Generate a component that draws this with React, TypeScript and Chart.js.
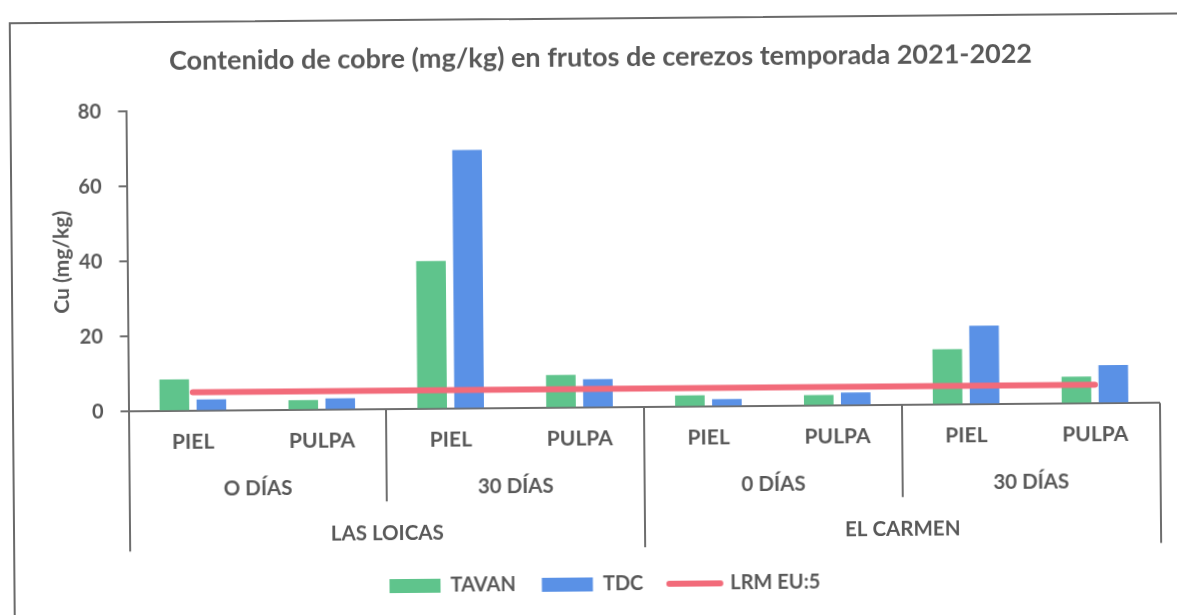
import { useEffect, useRef } from "react";
import { Chart, registerables } from "chart.js";

Chart.register(...registerables);

// ---- data ----
const tissues = ["PIEL", "PULPA", "PIEL", "PULPA", "PIEL", "PULPA", "PIEL", "PULPA"];
const periods = ["O DÍAS", "30 DÍAS", "0 DÍAS", "30 DÍAS"];
const locations = ["LAS LOICAS", "EL CARMEN"];
const tavan = [8.5, 2.7, 39.5, 8.8, 3.1, 2.9, 14.8, 7.2];
const tdc = [3.1, 3.1, 69.0, 7.6, 2.0, 3.5, 21.0, 10.2];
const lrm = [5, 5, 5, 5, 5, 5, 5, 5];
const yTicks = [0, 20, 40, 60, 80];
const seriesNames = ["TAVAN", "TDC", "LRM EU:5"];
const titleText = "Contenido de cobre (mg/kg) en frutos de cerezos temporada 2021-2022";
const yTitle = "Cu (mg/kg)";

const TEXT = "#585858";
const AXIS = "#6e6e6e";
const GREEN = "#5fc48c";
const BLUE = "#5a91e6";
const RED = "#f26b7a";
const FONT = "Lato, 'Noto Sans', sans-serif";

const categoryPlugin = {
  id: "hierLabels",
  afterDraw(chart: any) {
    const { ctx, chartArea } = chart;
    const xs = chart.scales.x;
    const base = chartArea.bottom;
    const n = tissues.length;
    const cx = (i: number) => xs.getPixelForValue(i);
    const edge = (i: number) => {
      if (i <= 0) return chartArea.left;
      if (i >= n) return chartArea.right;
      return (cx(i - 1) + cx(i)) / 2;
    };
    ctx.save();
    ctx.fillStyle = TEXT;
    ctx.textAlign = "center";
    ctx.textBaseline = "middle";
    ctx.font = `bold 21px ${FONT}`;
    tissues.forEach((t, i) => ctx.fillText(t, cx(i), base + 31));
    ctx.font = `bold 20.5px ${FONT}`;
    const perSize = n / periods.length;
    periods.forEach((p, j) => {
      const x = (edge(j * perSize) + edge((j + 1) * perSize)) / 2;
      ctx.fillText(p, x, base + 78);
    });
    const locSize = n / locations.length;
    locations.forEach((l, k) => {
      const x = (edge(k * locSize) + edge((k + 1) * locSize)) / 2;
      ctx.fillText(l, x, base + 124);
    });
    ctx.strokeStyle = AXIS;
    ctx.lineWidth = 2;
    ctx.beginPath();
    for (let j = 0; j <= periods.length; j++) {
      const i = j * perSize;
      const x = Math.round(edge(i));
      const isLoc = i % locSize === 0;
      ctx.moveTo(x, base);
      ctx.lineTo(x, base + (isLoc ? 140 : 92));
    }
    ctx.stroke();
    ctx.restore();
  },
};

export default function App() {
  const ref = useRef<HTMLCanvasElement | null>(null);
  useEffect(() => {
    document.body.style.margin = "0";
    const canvas = ref.current;
    if (!canvas) return;
    const chart = new Chart(canvas, {
      type: "bar",
      data: {
        labels: tissues,
        datasets: [
          {
            type: "bar",
            label: seriesNames[0],
            data: tavan,
            backgroundColor: GREEN,
            borderWidth: 0,
            order: 1,
          },
          {
            type: "bar",
            label: seriesNames[1],
            data: tdc,
            backgroundColor: BLUE,
            borderWidth: 0,
            order: 2,
          },
          {
            type: "line",
            label: seriesNames[2],
            data: lrm,
            borderColor: RED,
            backgroundColor: RED,
            borderWidth: 6,
            pointRadius: 0,
            borderCapStyle: "round",
            order: 0,
          } as any,
        ],
      },
      options: {
        responsive: false,
        animation: false,
        layout: { padding: { left: 47.5, right: 17.5, top: 0, bottom: 11 } },
        datasets: {
          bar: { categoryPercentage: 0.574, barPercentage: 0.8 },
        },
        scales: {
          x: {
            grid: { display: false, drawTicks: false },
            border: { display: true, color: AXIS, width: 2 },
            ticks: { display: false },
            afterFit: (s: any) => {
              s.height = 140.7;
            },
          },
          y: {
            min: 0,
            max: 80,
            afterBuildTicks: (s: any) => {
              s.ticks = yTicks.map((v) => ({ value: v }));
            },
            grid: { drawOnChartArea: false, drawTicks: true, tickLength: 8, color: AXIS, lineWidth: 2 },
            border: { display: true, color: AXIS, width: 2 },
            ticks: {
              color: TEXT,
              padding: 17,
              font: { family: FONT, size: 20, weight: "bold" },
            },
            title: {
              display: true,
              text: yTitle,
              color: TEXT,
              font: { family: FONT, size: 21, weight: "bold" },
              padding: { top: 3, bottom: 0 },
            },
            afterFit: (s: any) => {
              s.width = 81;
            },
          },
        },
        plugins: {
          title: {
            display: true,
            text: titleText,
            color: TEXT,
            font: { family: FONT, size: 27, weight: "bold" },
            padding: { top: 40.8, bottom: 34.1 },
          },
          legend: {
            position: "bottom",
            labels: {
              usePointStyle: true,
              pointStyleWidth: 51,
              boxHeight: 14,
              padding: 26,
              color: TEXT,
              font: { family: FONT, size: 20, weight: "bold" },
              sort: (a: any, b: any) => a.datasetIndex - b.datasetIndex,
              generateLabels: (c: any) =>
                c.data.datasets.map((ds: any, i: number) => ({
                  text: ds.label,
                  fillStyle: ds.backgroundColor,
                  strokeStyle: ds.type === "line" ? ds.borderColor : ds.backgroundColor,
                  lineWidth: ds.type === "line" ? 6 : 0,
                  lineCap: "round",
                  pointStyle: ds.type === "line" ? "line" : "rect",
                  fontColor: TEXT,
                  hidden: false,
                  datasetIndex: i,
                })),
            },
          },
          tooltip: { enabled: false },
        },
      },
      plugins: [categoryPlugin],
    });
    return () => chart.destroy();
  }, []);

  return (
    <div style={{ position: "relative", width: 1177, height: 615, overflow: "hidden", background: "#fff" }}>
      <div
        style={{
          position: "absolute",
          left: 0,
          top: 0,
          width: 1177,
          height: 615,
          transform: "rotate(-0.48deg)",
          transformOrigin: "644px 407px",
        }}
      >
        <div
          style={{
            position: "absolute",
            left: 12,
            top: 17,
            width: 1250,
            height: 700,
            border: "2.5px solid #6a6a6a",
            boxSizing: "border-box",
          }}
        />
        <canvas ref={ref} width={1177} height={615} style={{ position: "absolute", left: 0, top: 0 }} />
      </div>
    </div>
  );
}
